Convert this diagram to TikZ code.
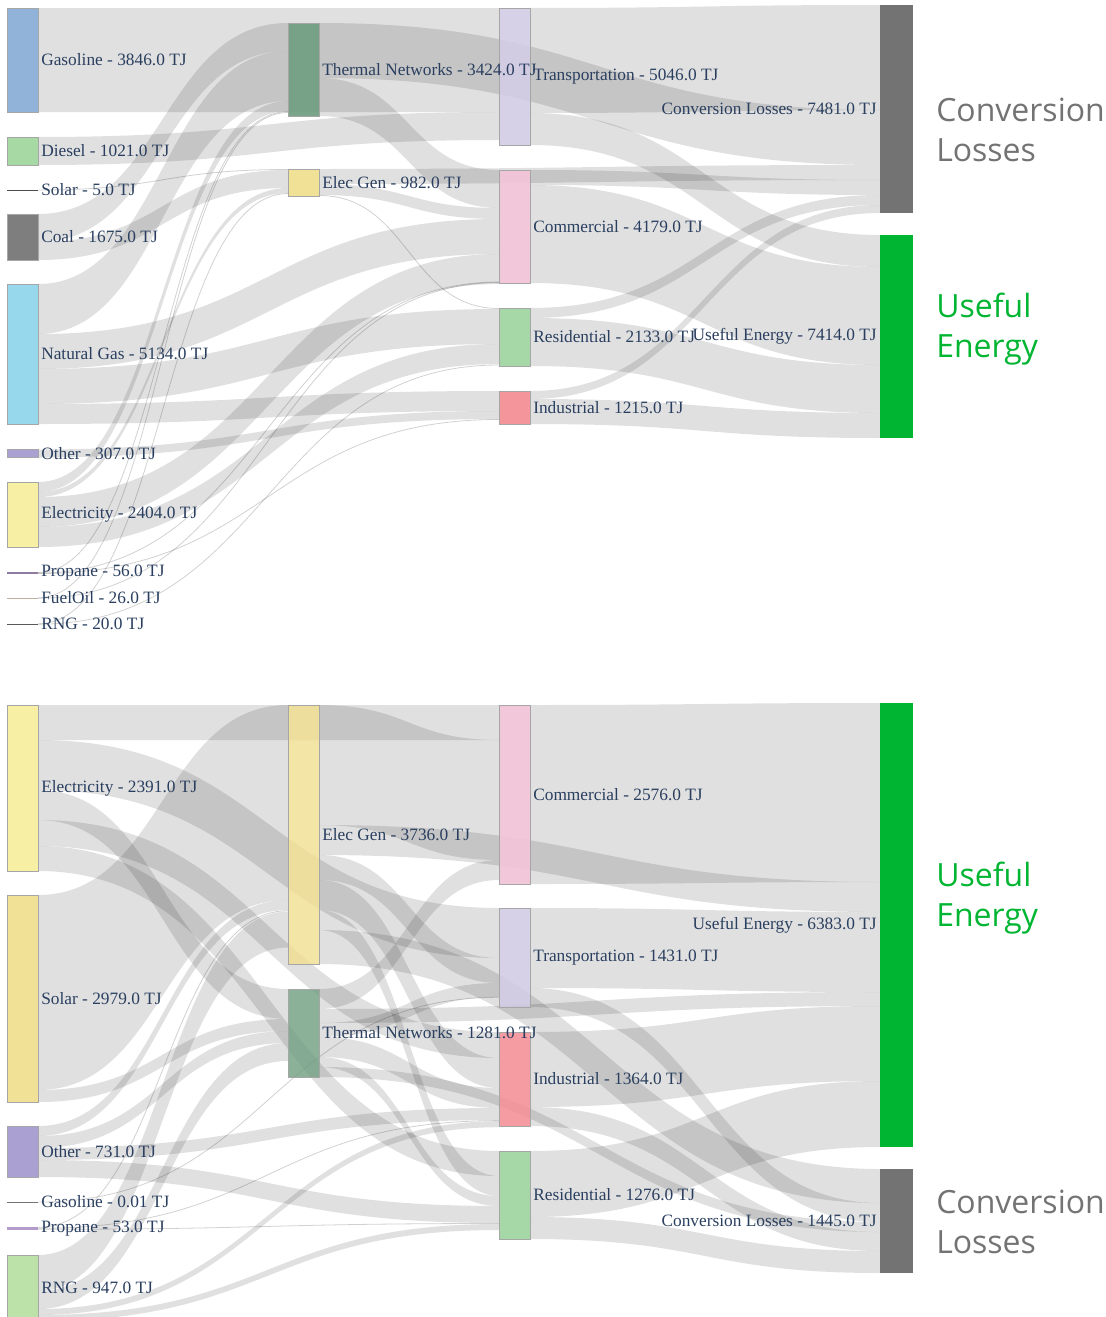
\documentclass[tikz,border=0pt]{standalone}
\usepackage{fontspec}
\setmainfont{Liberation Serif}
\newfontfamily\titlefont{Open Sans}

\definecolor{lblnavy}{HTML}{2A3F5F}
\definecolor{gasblue}{HTML}{88ACD6}
\definecolor{dieselgreen}{HTML}{A0D69C}
\definecolor{coalgray}{HTML}{737373}
\definecolor{ngcyan}{HTML}{8ED5EA}
\definecolor{otherpurple}{HTML}{A498CE}
\definecolor{elecyellow}{HTML}{F6EF9C}
\definecolor{tngreen}{HTML}{6F9D80}
\definecolor{egyellow}{HTML}{F0DE8E}
\definecolor{translav}{HTML}{D0C9E4}
\definecolor{commpink}{HTML}{F1C2D6}
\definecolor{resgreen}{HTML}{9ED49F}
\definecolor{indred}{HTML}{F38B93}
\definecolor{lossgray}{HTML}{737373}
\definecolor{usegreen}{HTML}{00B532}
\definecolor{rnggreen}{HTML}{B6E0A2}
\definecolor{proppurple}{HTML}{B39BCB}
\definecolor{fueltan}{HTML}{BFAE9E}

\pgfdeclarelayer{links}
\pgfsetlayers{links,main}

\newcommand{\px}{0.75pt}
% band: source, source offset, target, target offset, width, half gap (all in px)
\newcommand{\flow}[6]{%
  \fill[link] ([yshift=-#2*\px]#1.north east) .. controls +(#6,0) and +(-#6,0) .. ([yshift=-#4*\px]#3.north west)
    -- ([yshift=-#4*\px-#5*\px]#3.north west) .. controls +(-#6,0) and +(#6,0) .. ([yshift=-#2*\px-#5*\px]#1.north east) -- cycle;}
\newcommand{\thinflow}[5]{%
  \draw[thinlink] ([yshift=-#2*\px]#1.north east) .. controls +(#5,0) and +(-#5,0) .. ([yshift=-#4*\px]#3.north west);}

\tikzset{
  bar/.style={draw=black!35, line width=0.4pt, outer sep=0pt, inner sep=0pt, anchor=north west,
    minimum width=31*\px, fill opacity=0.92},
  hairline/.style={draw=none, outer sep=0pt, inner sep=0pt, anchor=north west, minimum width=31*\px},
  lbl/.style={text=lblnavy, font=\fontsize{13}{15}\selectfont, inner sep=0pt, label distance=3*\px,
    opacity=1, fill opacity=1, text opacity=1},
  every label/.style={lbl},
  link/.style={black, opacity=0.12},
  thinlink/.style={black, opacity=0.18, line width=0.6pt},
  bigtitle/.style={anchor=west, align=left, inner sep=0pt, font=\titlefont\fontsize{24}{30}\selectfont},
}

\begin{document}
\begin{tikzpicture}[x=0.75pt,y=-0.75pt]
\useasboundingbox (0,0) rectangle (1106,1317);

% ===== TOP DIAGRAM =====
% OUTPUTS
\node[bar, draw=none, fill=lossgray, fill opacity=1, minimum width=33*\px, minimum height=208*\px, label=left:Conversion Losses - 7481.0 TJ] (cl) at (880,5) {};
\node[bar, draw=none, fill=usegreen, fill opacity=1, minimum width=33*\px, minimum height=203*\px, label=left:Useful Energy - 7414.0 TJ] (ue) at (880,235) {};
% SECTORS
\node[bar, fill=translav, fill opacity=0.85, minimum height=137*\px, label=right:Transportation - 5046.0 TJ] (tr) at (499,8) {};
\node[bar, fill=commpink, minimum height=113*\px, label=right:Commercial - 4179.0 TJ] (com) at (499,170) {};
\node[bar, fill=resgreen, minimum height=58*\px, label=right:Residential - 2133.0 TJ] (res) at (499,308) {};
\node[bar, fill=indred, minimum height=33*\px, label=right:Industrial - 1215.0 TJ] (ind) at (499,391) {};
% CONVERSION
\node[bar, fill=tngreen, minimum height=93*\px, label=right:Thermal Networks - 3424.0 TJ] (tn) at (288,23) {};
\node[bar, fill=egyellow, minimum height=27*\px, label=right:Elec Gen - 982.0 TJ] (eg) at (288,169) {};
% SOURCES
\node[bar, fill=gasblue, minimum height=104*\px, label=right:Gasoline - 3846.0 TJ] (gas) at (7,8) {};
\node[bar, fill=dieselgreen, minimum height=28*\px, label=right:Diesel - 1021.0 TJ] (dsl) at (7,137) {};
\node[hairline, fill=black!70, minimum height=1*\px, label=right:Solar - 5.0 TJ] (sol) at (7,189.5) {};
\node[bar, fill=coalgray, minimum height=46*\px, label=right:Coal - 1675.0 TJ] (coal) at (7,214) {};
\node[bar, fill=ngcyan, minimum height=140*\px, label=right:Natural Gas - 5134.0 TJ] (ng) at (7,284) {};
\node[bar, fill=otherpurple, minimum height=8*\px, label=right:Other - 307.0 TJ] (oth) at (7,449.5) {};
\node[bar, fill=elecyellow, minimum height=65*\px, label=right:Electricity - 2404.0 TJ] (elec) at (7,482) {};
\node[hairline, fill=proppurple!80!black, minimum height=1.6*\px, label=right:Propane - 56.0 TJ] (prop) at (7,572.2) {};
\node[hairline, fill=fueltan, minimum height=1*\px, label=right:FuelOil - 26.0 TJ] (fuel) at (7,597.5) {};
\node[hairline, fill=black!65, minimum height=1*\px, label=right:RNG - 20.0 TJ] (rng) at (7,623.5) {};

% ===== BOTTOM DIAGRAM =====
% OUTPUTS
\node[bar, draw=none, fill=usegreen, fill opacity=1, minimum width=33*\px, minimum height=444*\px, label=left:Useful Energy - 6383.0 TJ] (ueb) at (880,703) {};
\node[bar, draw=none, fill=lossgray, fill opacity=1, minimum width=33*\px, minimum height=104*\px, label=left:Conversion Losses - 1445.0 TJ] (clb) at (880,1169) {};
% SECTORS
\node[bar, fill=commpink, minimum height=179*\px, label=right:Commercial - 2576.0 TJ] (comb) at (499,705) {};
\node[bar, fill=translav, fill opacity=0.85, minimum height=99*\px, label=right:Transportation - 1431.0 TJ] (trb) at (499,908) {};
\node[bar, fill=indred, fill opacity=0.85, minimum height=94*\px, label=right:Industrial - 1364.0 TJ] (indb) at (499,1032) {};
\node[bar, fill=resgreen, minimum height=88*\px, label=right:Residential - 1276.0 TJ] (resb) at (499,1151) {};
% CONVERSION
\node[bar, fill=egyellow, fill opacity=0.8, minimum height=259*\px, label=right:Elec Gen - 3736.0 TJ] (egb) at (288,705) {};
\node[bar, fill=tngreen, fill opacity=0.8, minimum height=88*\px, label=right:Thermal Networks - 1281.0 TJ] (tnb) at (288,989) {};
% SOURCES
\node[bar, fill=elecyellow, minimum height=166*\px, label=right:Electricity - 2391.0 TJ] (elecb) at (7,705) {};
\node[bar, fill=egyellow, minimum height=207*\px, label=right:Solar - 2979.0 TJ] (solb) at (7,895) {};
\node[bar, fill=otherpurple, minimum height=51*\px, label=right:Other - 731.0 TJ] (othb) at (7,1126) {};
\node[hairline, fill=black!55, minimum height=1*\px, label=right:Gasoline - 0.01 TJ] (gasb) at (7,1201.5) {};
\node[hairline, fill=proppurple, minimum height=3.5*\px, label=right:Propane - 53.0 TJ] (propb) at (7,1226.5) {};
\node[bar, fill=rnggreen, minimum height=66*\px, label=right:RNG - 947.0 TJ] (rngb) at (7,1255) {};

% TITLES
\node[bigtitle, text=lossgray] (cltitle) at (936,130) {Conversion\\Losses};
\node[bigtitle, text=usegreen] (uetitle) at (936,329) {Useful\\Energy};
\node[bigtitle, text=usegreen] (uebtitle) at (936,898) {Useful\\Energy};
\node[bigtitle, text=lossgray] (clbtitle) at (936,1222) {Conversion\\Losses};

\begin{pgfonlayer}{links}
% TOP: sources -> sectors
\flow{gas}{0}{tr}{0}{104}{230.5}
\flow{dsl}{0}{tr}{104}{28}{230.5}
\flow{ng}{50}{com}{49}{35}{230.5}
\flow{ng}{85}{res}{1}{35}{230.5}
\flow{ng}{120}{ind}{0}{20}{230.5}
\flow{oth}{0}{ind}{20}{8}{230.5}
\flow{elec}{15}{com}{84}{30}{230.5}
\flow{elec}{45}{res}{36}{20}{230.5}
% TOP: sources -> conversion
\flow{coal}{0}{tn}{0}{28}{125}
\flow{coal}{28}{eg}{1}{18}{125}
\flow{ng}{0}{tn}{28}{50}{125}
\flow{elec}{0}{tn}{78}{10}{125}
\flow{elec}{10}{eg}{19}{5}{125}
% TOP: conversion -> sectors, outputs
\flow{tn}{0}{cl}{105}{55}{280.5}
\flow{tn}{55}{com}{0}{38}{90}
\flow{eg}{0}{cl}{160}{15}{280.5}
\flow{eg}{15}{com}{38}{11}{90}
% TOP: sectors -> outputs
\flow{tr}{0}{cl}{0}{105}{175}
\flow{tr}{105}{ue}{0}{32}{175}
\flow{com}{0}{cl}{175}{15}{175}
\flow{com}{15}{ue}{32}{98}{175}
\flow{res}{0}{cl}{190}{10}{175}
\flow{res}{10}{ue}{130}{48}{175}
\flow{ind}{0}{cl}{200}{8}{175}
\flow{ind}{8}{ue}{178}{25}{175}
% TOP: small links
\thinflow{sol}{0.5}{eg}{0.5}{125}
\thinflow{prop}{0.3}{tn}{88.5}{125}
\thinflow{prop}{0.8}{com}{112}{230.5}
\thinflow{prop}{1.3}{ind}{28.5}{230.5}
\thinflow{fuel}{0.3}{tn}{89.5}{125}
\thinflow{fuel}{0.7}{com}{112.6}{230.5}
\thinflow{rng}{0.3}{eg}{24.5}{125}
\thinflow{rng}{0.7}{res}{57}{230.5}
\thinflow{eg}{26.5}{res}{0.5}{90}

% BOTTOM: sources -> sectors
\flow{elecb}{0}{comb}{0}{35}{230.5}
\flow{elecb}{35}{trb}{0}{50}{230.5}
\flow{elecb}{115}{indb}{0}{26}{230.5}
\flow{elecb}{141}{resb}{0}{25}{230.5}
\flow{othb}{22}{indb}{76}{12}{230.5}
\flow{othb}{34}{resb}{55}{17}{230.5}
\flow{rngb}{54}{indb}{89.2}{6}{230.5}
\flow{rngb}{60}{resb}{73}{6}{230.5}
% BOTTOM: sources -> conversion
\flow{elecb}{85}{tnb}{0}{30}{125}
\flow{solb}{0}{egb}{0}{195}{125}
\flow{solb}{195}{tnb}{30}{12}{125}
\flow{othb}{0}{egb}{195}{10}{125}
\flow{othb}{10}{tnb}{42}{12}{125}
\flow{rngb}{0}{egb}{206.5}{36}{125}
\flow{rngb}{36}{tnb}{54}{18}{125}
% BOTTOM: conversion -> sectors, outputs
\flow{egb}{0}{comb}{35}{120}{90}
\flow{egb}{120}{ueb}{179}{30}{280.5}
\flow{egb}{150}{trb}{50}{25}{90}
\flow{egb}{175}{indb}{26}{30}{90}
\flow{egb}{205}{resb}{25}{20}{90}
\flow{egb}{225}{clb}{0}{34}{280.5}
\flow{tnb}{0}{comb}{155}{20}{90}
\flow{tnb}{20}{ueb}{289}{14}{280.5}
\flow{tnb}{34}{trb}{75}{14}{90}
\flow{tnb}{48}{indb}{56}{20}{90}
\flow{tnb}{68}{resb}{45}{10}{90}
\flow{tnb}{78}{clb}{53}{10}{280.5}
% BOTTOM: sectors -> outputs
\flow{comb}{0}{ueb}{0}{179}{175}
\flow{trb}{0}{ueb}{209}{80}{175}
\flow{trb}{80}{clb}{34}{19}{175}
\flow{indb}{0}{ueb}{303}{75}{175}
\flow{indb}{75}{clb}{63}{19}{175}
\flow{resb}{0}{ueb}{378}{66}{175}
\flow{resb}{66}{clb}{82}{22}{175}
% BOTTOM: small links
\thinflow{gasb}{0.5}{trb}{89.3}{230.5}
\thinflow{propb}{0.8}{egb}{205.7}{125}
\thinflow{propb}{1.8}{indb}{88.6}{230.5}
\thinflow{propb}{2.8}{resb}{72.5}{230.5}
\end{pgfonlayer}
\end{tikzpicture}
\end{document}
